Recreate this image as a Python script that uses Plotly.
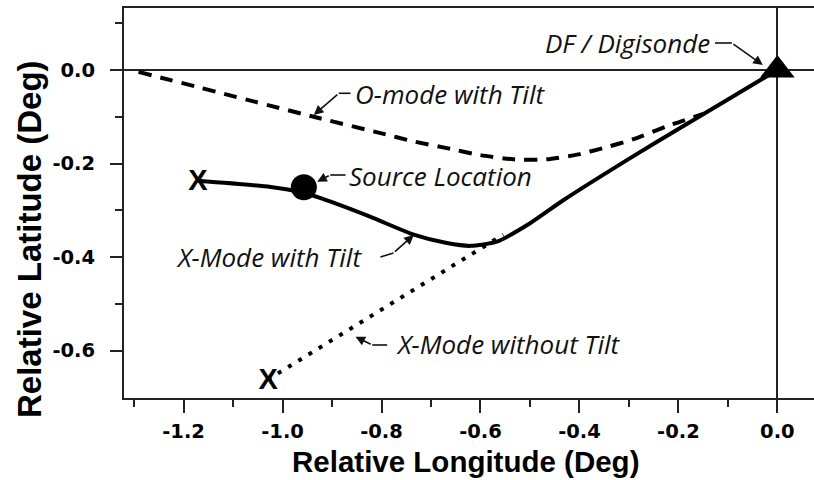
import plotly.graph_objects as go

# ---- data ----
x_mode_tilt_lon = [-1.172, -1.024, -0.96, -0.923, -0.822, -0.735, -0.668, -0.620, -0.567, -0.499, -0.432, -0.30, -0.20, -0.10, 0.0]
x_mode_tilt_lat = [-0.237, -0.250, -0.262, -0.274, -0.314, -0.352, -0.370, -0.376, -0.367, -0.327, -0.278, -0.190, -0.126, -0.063, 0.0]

o_mode_tilt_lon = [-1.291, -0.937, -0.802, -0.734, -0.668, -0.600, -0.533, -0.466, -0.405, -0.352, -0.291, -0.217, -0.15]
o_mode_tilt_lat = [-0.004, -0.100, -0.135, -0.153, -0.167, -0.182, -0.191, -0.191, -0.181, -0.167, -0.148, -0.118, -0.094]

x_mode_notilt_lon = [-1.030, -0.554]
x_mode_notilt_lat = [-0.662, -0.352]

x_marks_lon = [-1.171, -1.029]
x_marks_lat = [-0.2416, -0.6663]

source_lon = [-0.957]
source_lat = [-0.2507]

df_lon = [0.0]
df_lat = [0.0]

x_tick_vals = [-1.2, -1.0, -0.8, -0.6, -0.4, -0.2, 0.0]
x_tick_text = ["-1.2", "-1.0", "-0.8", "-0.6", "-0.4", "-0.2", "0.0"]
y_tick_vals = [0.0, -0.2, -0.4, -0.6]
y_tick_text = ["0.0", "-0.2", "-0.4", "-0.6"]

BLACK = "#000000"
AX = "#222222"

fig = go.Figure()

fig.add_trace(go.Scatter(x=o_mode_tilt_lon, y=o_mode_tilt_lat, mode="lines",
                         line=dict(color=BLACK, width=4, dash="13px,9px", shape="spline", smoothing=0.6),
                         showlegend=False, hoverinfo="skip"))
fig.add_trace(go.Scatter(x=x_mode_notilt_lon, y=x_mode_notilt_lat, mode="lines",
                         line=dict(color=BLACK, width=4, dash="4px,8px"),
                         showlegend=False, hoverinfo="skip"))
fig.add_trace(go.Scatter(x=x_mode_tilt_lon, y=x_mode_tilt_lat, mode="lines",
                         line=dict(color=BLACK, width=4, shape="spline", smoothing=0.6),
                         showlegend=False, hoverinfo="skip"))
fig.add_trace(go.Scatter(x=source_lon, y=source_lat, mode="markers",
                         marker=dict(symbol="circle", size=26, color=BLACK),
                         showlegend=False, hoverinfo="skip"))
fig.add_trace(go.Scatter(x=df_lon, y=df_lat, mode="markers",
                         marker=dict(symbol="triangle-up", size=30, color=BLACK),
                         showlegend=False, hoverinfo="skip"))
fig.add_trace(go.Scatter(x=x_marks_lon, y=x_marks_lat, mode="text", text=["X", "X"],
                         textposition="middle center",
                         textfont=dict(family="Liberation Sans", size=29, color=BLACK, weight="bold"),
                         showlegend=False, hoverinfo="skip"))

ann_font = dict(family="Open Sans", size=26, color="#111111")

def label(text, x, y, xanchor):
    return dict(x=x, y=y, xref="x", yref="y", text="<i>" + text + "</i>", showarrow=False,
                xanchor=xanchor, yanchor="middle", font=ann_font)

def arrow(hx, hy, tx, ty):
    return dict(x=hx, y=hy, xref="x", yref="y", ax=tx, ay=ty, axref="x", ayref="y",
                text="", showarrow=True, arrowhead=2, arrowsize=1.2, arrowwidth=1.6,
                arrowcolor="#111111")

annotations = [
    label("DF / Digisonde", -0.132, 0.0567, "right"),
    arrow(-0.0293, 0.0107, -0.0919, 0.0577),
    label("O-mode with Tilt", -0.8573, -0.0513, "left"),
    arrow(-0.9368, -0.0962, -0.8863, -0.0498),
    label("Source Location", -0.8694, -0.2262, "left"),
    arrow(-0.930, -0.2388, -0.9036, -0.2245),
    label("X-Mode with Tilt", -0.8359, -0.3997, "right"),
    arrow(-0.7348, -0.3527, -0.7759, -0.3912),
    label("X-Mode without Tilt", -0.7753, -0.5857, "left"),
    arrow(-0.8526, -0.5701, -0.8189, -0.5879),
    # axis titles
    dict(x=0.4949, y=-0.163, xref="paper", yref="paper", text="<b>Relative Longitude (Deg)</b>",
         showarrow=False, xanchor="center", yanchor="middle",
         font=dict(family="Liberation Sans", size=29.5, color=BLACK)),
    dict(x=-0.1362, y=0.4077, xref="paper", yref="paper", text="<b>Relative Latitude (Deg)</b>",
         showarrow=False, xanchor="center", yanchor="middle", textangle=-90,
         font=dict(family="Liberation Sans", size=33, color=BLACK)),
]

tails = [
    (-0.126, 0.0577, -0.0919, 0.0577),
    (-0.8863, -0.0498, -0.8627, -0.0498),
    (-0.9036, -0.2245, -0.8728, -0.2245),
    (-0.8022, -0.3998, -0.7759, -0.3912),
    (-0.8189, -0.5879, -0.7886, -0.5879),
]
shapes = [dict(type="line", xref="x", yref="y", x0=a, y0=b, x1=c, y1=d,
               line=dict(color="#111111", width=1.6)) for a, b, c, d in tails]

tick_font = dict(family="DejaVu Sans", size=19.5, color=BLACK, weight="bold")

fig.update_layout(
    width=814, height=480,
    margin=dict(l=124, r=0, t=8, b=82),
    paper_bgcolor="white", plot_bgcolor="white",
    annotations=annotations, shapes=shapes,
    xaxis=dict(range=[-1.3204, 0.074], showgrid=False, zeroline=True, zerolinecolor=AX, zerolinewidth=2,
               showline=True, linecolor=AX, linewidth=2, mirror=True,
               ticks="outside", ticklen=13, tickwidth=2, tickcolor=AX,
               tickvals=x_tick_vals, ticktext=x_tick_text, tickfont=tick_font, ticklabelstandoff=2,
               minor=dict(tickvals=[-1.3, -1.1, -0.9, -0.7, -0.5, -0.3, -0.1], ticks="outside",
                          ticklen=7, tickwidth=2, tickcolor=AX)),
    yaxis=dict(range=[-0.7012, 0.1325], showgrid=False, zeroline=True, zerolinecolor=AX, zerolinewidth=2,
               showline=True, linecolor=AX, linewidth=2, mirror=False,
               ticks="outside", ticklen=12, tickwidth=2, tickcolor=AX,
               tickvals=y_tick_vals, ticktext=y_tick_text, tickfont=tick_font, ticklabelstandoff=11,
               minor=dict(tickvals=[0.1, -0.1, -0.3, -0.5], ticks="outside",
                          ticklen=7, tickwidth=2, tickcolor=AX)),
)

fig.write_html("out.html", config={"displayModeBar": False},
               post_script="document.body.style.margin='0px';document.body.style.padding='0px';")
